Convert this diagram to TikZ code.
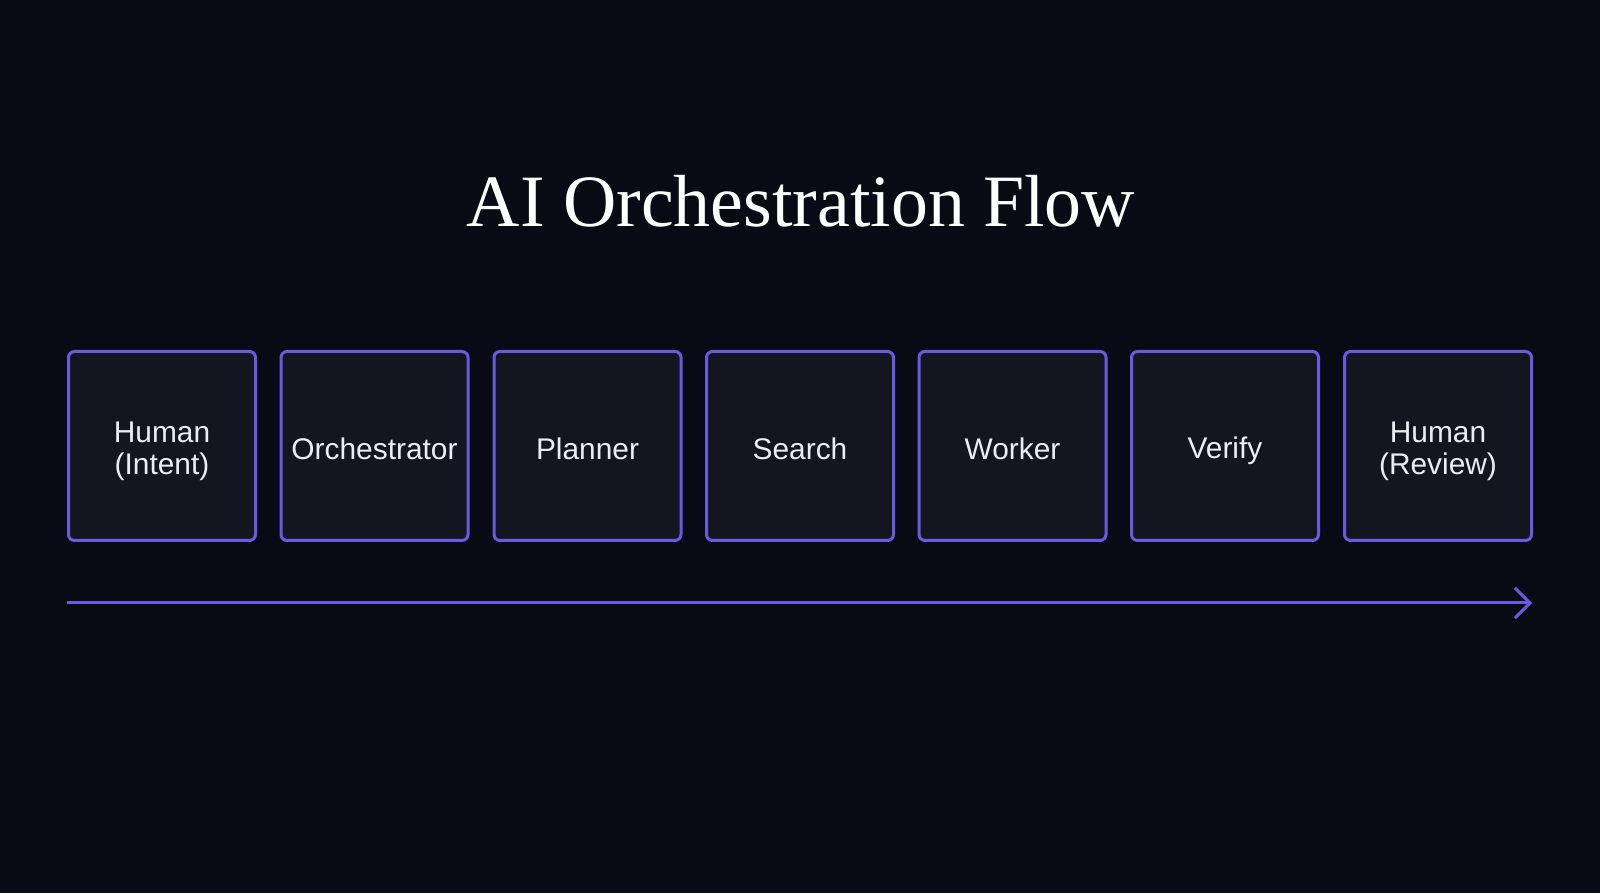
\documentclass[tikz,border=0pt]{standalone}
\usepackage{fontspec}
\setmainfont{Liberation Serif}
\newfontfamily\boxfont{Liberation Sans}
\usetikzlibrary{arrows.meta}
\definecolor{bgdark}{RGB}{10,10,20}
\definecolor{boxfill}{RGB}{21,21,32}
\definecolor{violet}{RGB}{106,90,224}
\definecolor{labeltext}{RGB}{236,236,242}
\newcommand\lblstrut{\rule[-3pt]{0pt}{21pt}}
\newcommand\topstrut{\rule{0pt}{18pt}}
\begin{document}
\begin{tikzpicture}[
  stage/.style={rectangle, rounded corners=0.12cm, draw=violet, line width=0.06cm, fill=boxfill,
    minimum width=3.74cm, minimum height=3.78cm, align=center, text=labeltext,
    font=\boxfont\fontsize{17}{18.5}\selectfont,
    execute at begin node=\lblstrut, execute at end node=\lblstrut},
  flow/.style={draw=violet, line width=0.06cm, -{Straight Barb[length=0.3cm, width=0.6cm, line width=0.06cm]}}
]
\fill [bgdark] (0,0) rectangle (32,17.86);
\useasboundingbox (0,0) rectangle (32,17.86);

\node [anchor=base, text=white, font=\fontsize{42}{48}\selectfont] (title) at (16.02,13.32) {AI Orchestration Flow};

\node [stage] (s1) at (3.24,8.94) {\topstrut Human\\(Intent)};
\node [stage] (s2) at (7.49,8.94) {Orchestrator};
\node [stage] (s3) at (11.75,8.94) {Planner};
\node [stage] (s4) at (16.0,8.94) {Search};
\node [stage] (s5) at (20.25,8.94) {Worker};
\node [stage] (s6) at (24.5,8.94) {Verify};
\node [stage] (s7) at (28.76,8.94) {\topstrut Human\\(Review)};

\coordinate (start) at (1.34,5.8);
\coordinate (finish) at (30.64,5.8);
\draw [flow] (start) -- (finish);
\end{tikzpicture}
\end{document}
